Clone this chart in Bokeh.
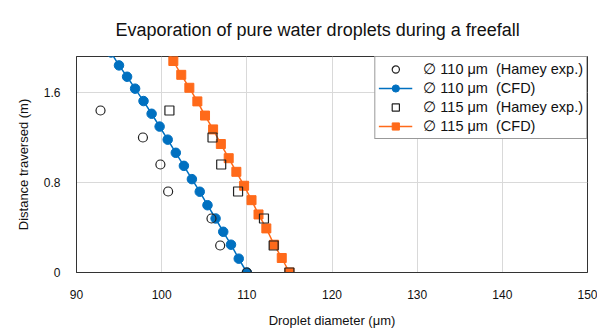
from bokeh.plotting import figure
from bokeh.models import FixedTicker, Legend, LegendItem, Range1d
from bokeh.embed import file_html
from bokeh.resources import INLINE

# ---- data ----
cfd110_diam = [94.05, 94.99, 95.94, 96.88, 97.87, 98.82, 99.76, 100.71, 101.66, 102.61,
               103.55, 104.47, 105.38, 106.33, 107.23, 108.14, 109.05, 110.0]
cfd110_dist = [1.956, 1.841, 1.740, 1.634, 1.524, 1.411, 1.297, 1.181, 1.064, 0.948,
               0.830, 0.718, 0.598, 0.480, 0.362, 0.247, 0.123, 0.0]

cfd115_diam = [100.45, 101.37, 102.30, 103.25, 104.19, 105.09, 106.04, 106.95, 107.87,
               108.77, 109.68, 110.55, 111.37, 112.29, 113.20, 114.10, 115.0]
cfd115_dist = [2.003, 1.880, 1.757, 1.642, 1.521, 1.395, 1.272, 1.142, 1.016,
               0.895, 0.771, 0.643, 0.516, 0.392, 0.247, 0.129, 0.0]

exp_dist = [0.0, 0.24, 0.48, 0.72, 0.96, 1.2, 1.44]
exp110_diam = [110.0, 106.87, 105.85, 100.76, 99.85, 97.80, 92.82]
exp115_diam = [115.0, 113.15, 112.01, 108.97, 106.99, 105.97, 100.91]

x_ticks = [90, 100, 110, 120, 130, 140, 150]
y_ticks = [0, 0.8, 1.6]
y_tick_labels = {0: "0", 0.8: "0.8", 1.6: "1.6"}

labels = ["\u2205 110 \u03bcm  (Hamey exp.)", "\u2205 110 \u03bcm  (CFD)",
          "\u2205 115 \u03bcm  (Hamey exp.)", "\u2205 115 \u03bcm  (CFD)"]

title_text = "Evaporation of pure water droplets during a freefall"
x_label = "Droplet diameter (\u03bcm)"
y_label = "Distance traversed (m)"

BLUE = "#0070C0"
ORANGE = "#FF6A1A"
FONT = "Liberation Sans"

p = figure(width=597, height=330, output_backend="svg", toolbar_location=None,
           x_range=Range1d(90, 150), y_range=Range1d(0, 1.92),
           min_border_left=76, min_border_right=10, min_border_top=56, min_border_bottom=46)

p.title.text = title_text
p.title.align = "left"
p.title.offset = 39
p.title.text_font = FONT
p.title.text_font_size = "18px"
p.title.text_font_style = "normal"
p.title.text_color = "#111111"
p.title.standoff = 34

p.outline_line_color = "#333333"
p.outline_line_width = 1
p.background_fill_color = "white"
p.border_fill_color = "white"

p.xaxis.ticker = FixedTicker(ticks=x_ticks)
p.yaxis.ticker = FixedTicker(ticks=y_ticks)
p.yaxis.major_label_overrides = y_tick_labels
for ax in (p.xaxis, p.yaxis):
    ax.major_tick_line_color = None
    ax.minor_tick_line_color = None
    ax.axis_line_color = "#333333"
    ax.major_label_text_font = FONT
    ax.major_label_text_font_size = "12px"
    ax.major_label_text_color = "#111111"
    ax.axis_label_text_font = FONT
    ax.axis_label_text_font_size = "13px"
    ax.axis_label_text_font_style = "normal"
    ax.axis_label_text_color = "#111111"
p.xaxis.axis_label = x_label
p.yaxis.axis_label = y_label
p.xaxis.major_label_standoff = 11
p.yaxis.major_label_standoff = 10
p.xaxis.axis_label_standoff = 11
p.yaxis.axis_label_standoff = 10

p.xgrid.ticker = FixedTicker(ticks=x_ticks)
p.ygrid.ticker = FixedTicker(ticks=[0.8, 1.6])
p.xgrid.grid_line_color = "#d9d9d9"
p.ygrid.grid_line_color = "#d9d9d9"

# CFD 110
l1 = p.line(cfd110_diam, cfd110_dist, line_color=BLUE, line_width=1.5)
s1 = p.scatter(cfd110_diam, cfd110_dist, marker="circle", size=9.5,
               fill_color=BLUE, line_color=BLUE)
# CFD 115
l2 = p.line(cfd115_diam, cfd115_dist, line_color=ORANGE, line_width=1.5)
s2 = p.scatter(cfd115_diam, cfd115_dist, marker="square", size=9,
               fill_color=ORANGE, line_color=ORANGE)
# Experiments
e1 = p.scatter(exp110_diam, exp_dist, marker="circle", size=9,
               fill_color=None, line_color="#222222", line_width=1.2)
e2 = p.scatter(exp115_diam, exp_dist, marker="square", size=9,
               fill_color=None, line_color="#222222", line_width=1.2)

legend = Legend(items=[
    LegendItem(label=labels[0], renderers=[e1]),
    LegendItem(label=labels[1], renderers=[l1, s1]),
    LegendItem(label=labels[2], renderers=[e2]),
    LegendItem(label=labels[3], renderers=[l2, s2]),
], location="top_right")
legend.margin = 0
legend.padding = 3
legend.spacing = 1
legend.glyph_width = 34
legend.glyph_height = 18
legend.label_height = 18
legend.label_standoff = 11
legend.label_text_font = FONT
legend.label_text_font_size = "14.5px"
legend.label_text_color = "#111111"
legend.border_line_color = "#333333"
legend.background_fill_alpha = 1.0
p.add_layout(legend)

open("out.html", "w").write(file_html(p, INLINE))
